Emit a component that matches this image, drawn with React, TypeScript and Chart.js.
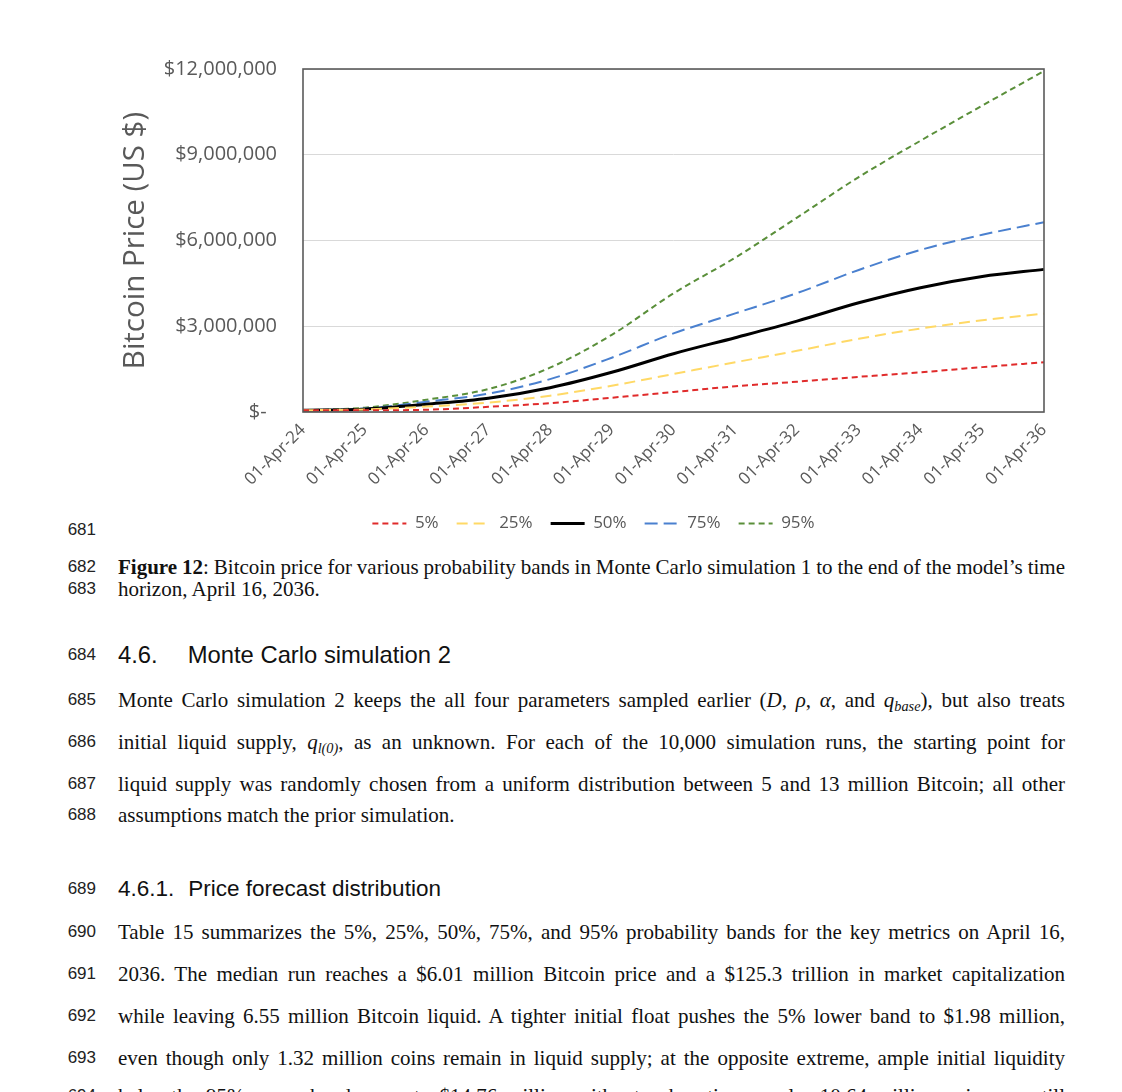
import React, { useEffect, useRef } from 'react';
import { Chart, registerables } from 'chart.js';

Chart.register(...registerables);

// X categories (tick labels)
const categories = [
  '01-Apr-24', '01-Apr-25', '01-Apr-26', '01-Apr-27', '01-Apr-28', '01-Apr-29', '01-Apr-30',
  '01-Apr-31', '01-Apr-32', '01-Apr-33', '01-Apr-34', '01-Apr-35', '01-Apr-36',
];

// Bitcoin price per probability band, in millions of US $
const p5 = [0.06, 0.06, 0.08, 0.18, 0.31, 0.50, 0.70, 0.90, 1.06, 1.23, 1.39, 1.57, 1.74];
const p25 = [0.06, 0.09, 0.19, 0.33, 0.57, 0.92, 1.33, 1.74, 2.14, 2.56, 2.92, 3.21, 3.44];
const p50 = [0.06, 0.10, 0.27, 0.48, 0.85, 1.39, 2.04, 2.60, 3.18, 3.82, 4.35, 4.74, 4.99];
const p75 = [0.06, 0.12, 0.36, 0.64, 1.15, 1.90, 2.75, 3.45, 4.16, 4.97, 5.67, 6.20, 6.64];
const p95 = [0.06, 0.15, 0.43, 0.80, 1.55, 2.70, 4.15, 5.40, 6.80, 8.22, 9.49, 10.72, 11.93];

const seriesLabels = ['5%', '25%', '50%', '75%', '95%'];
const yTicks = [0, 3000000, 6000000, 9000000, 12000000];

const FONT = "'Open Sans', 'Noto Sans', sans-serif";
const GREY = '#595959';
const PAD_LEFT = 0;
const PAD_RIGHT = 43;

const framePlugin = {
  id: 'plotFrame',
  afterLayout(chart: any) {
    // centre the legend on the whole chart area (as in the original), not on the padded box
    const lg = chart.legend;
    if (lg) {
      const shift = (PAD_RIGHT - PAD_LEFT) / 2;
      lg.left += shift;
      lg.right += shift;
    }
  },
  afterDraw(chart: any) {
    const { ctx, chartArea } = chart;
    ctx.save();
    ctx.strokeStyle = '#5a5a5a';
    ctx.lineWidth = 1.6;
    ctx.strokeRect(chartArea.left, chartArea.top, chartArea.right - chartArea.left, chartArea.bottom - chartArea.top);
    ctx.restore();
  },
};

function PriceChart() {
  const ref = useRef<HTMLCanvasElement | null>(null);
  useEffect(() => {
    if (!ref.current) return;
    const toDollars = (arr: number[]) => arr.map((v) => v * 1000000);
    const chart = new Chart(ref.current, {
      type: 'line',
      data: {
        labels: categories,
        datasets: [
          { label: seriesLabels[0], data: toDollars(p5), borderColor: '#E02B2B', borderWidth: 2, borderDash: [6, 4] },
          { label: seriesLabels[1], data: toDollars(p25), borderColor: '#FFD966', borderWidth: 2, borderDash: [11, 6] },
          { label: seriesLabels[2], data: toDollars(p50), borderColor: '#000000', borderWidth: 3, borderDash: [] as number[] },
          { label: seriesLabels[3], data: toDollars(p75), borderColor: '#4A80CF', borderWidth: 2, borderDash: [13, 6] },
          { label: seriesLabels[4], data: toDollars(p95), borderColor: '#5A8F3A', borderWidth: 2, borderDash: [6, 4] },
        ].map((d) => ({ ...d, pointRadius: 0, fill: false, cubicInterpolationMode: 'monotone' as const, borderCapStyle: 'butt' as const })),
      },
      options: {
        animation: false,
        responsive: false,
        layout: { padding: { top: 29, right: PAD_RIGHT, left: PAD_LEFT, bottom: 0 } },
        plugins: {
          legend: {
            position: 'bottom',
            labels: {
              usePointStyle: true,
              pointStyle: 'line',
              pointStyleWidth: 34,
              padding: 18,
              color: GREY,
              font: { family: FONT, size: 17 },
              generateLabels: (c: any) => {
                const items = Chart.defaults.plugins.legend.labels.generateLabels(c);
                return items.map((it: any) => {
                  const ds: any = c.data.datasets[it.datasetIndex];
                  return { ...it, lineDash: ds.borderDash || [], lineWidth: ds.borderWidth, strokeStyle: ds.borderColor, pointStyle: 'line' };
                });
              },
            },
          },
          tooltip: { enabled: false },
        },
        scales: {
          x: {
            type: 'category',
            offset: false,
            grid: { display: false, drawTicks: false },
            border: { display: false },
            ticks: {
              autoSkip: false,
              minRotation: 45,
              maxRotation: 45,
              padding: 8,
              color: GREY,
              font: { family: FONT, size: 17 },
            },
            afterFit: (s: any) => { s.height = 85; },
          },
          y: {
            min: 0,
            max: 12000000,
            grid: { color: '#d9d9d9', lineWidth: 1, drawTicks: false },
            border: { display: false },
            afterBuildTicks: (s: any) => { s.ticks = yTicks.map((v) => ({ value: v })); },
            ticks: {
              padding: 26,
              color: GREY,
              font: { family: FONT, size: 20 },
              callback: (v: any) => (Number(v) === 0 ? '$-  ' : '$' + Number(v).toLocaleString('en-US')),
            },
            title: {
              display: true,
              text: 'Bitcoin Price (US $)',
              color: GREY,
              font: { family: FONT, size: 29.5 },
              padding: { top: 18, bottom: 0 },
            },
            afterFit: (s: any) => {
              s.width = 203;
              s.paddingTop = 0;
              s.paddingBottom = 0;
            },
          },
        },
      },
      plugins: [framePlugin],
    });
    return () => chart.destroy();
  }, []);
  return <canvas ref={ref} width={987} height={502} style={{ width: 987, height: 502, display: 'block' }} />;
}

const serif = "'Liberation Serif', 'Times New Roman', serif";
const sans = "'Liberation Sans', Arial, sans-serif";

function Num({ n, y }: { n: string; y: number }) {
  return (
    <div style={{ position: 'absolute', left: 0, width: 96, top: y - 12, height: 24, lineHeight: '24px', textAlign: 'right', fontFamily: sans, fontSize: 17, color: '#222' }}>
      {n}
    </div>
  );
}

function TextLine({ y, justify, children, font, size, ws }: { y: number; justify?: boolean; children: React.ReactNode; font?: string; size?: number; ws?: number }) {
  return (
    <div
      style={{
        position: 'absolute', left: 118, width: 947, top: y - 13, height: 26, lineHeight: '26px',
        fontFamily: font || serif, fontSize: size || 21, color: '#111', whiteSpace: 'nowrap',
        wordSpacing: ws || 0,
        textAlign: justify ? 'justify' : 'left', textAlignLast: justify ? 'justify' : 'left',
      } as React.CSSProperties}
    >
      {children}
    </div>
  );
}

const subStyle: React.CSSProperties = { fontSize: '0.68em', lineHeight: 0, verticalAlign: '-0.3em', fontStyle: 'italic' };

export default function App() {
  return (
    <div style={{ position: 'absolute', left: 0, top: 0, width: 1122, height: 1092, overflow: 'hidden', background: '#fff' }}>
      <div style={{ position: 'absolute', left: 100, top: 40 }}>
        <PriceChart />
      </div>
      <Num n="681" y={530} />
      <Num n="682" y={567} />
      <TextLine y={567} justify ws={-1}>
        <b>Figure 12</b>: Bitcoin price for various probability bands in Monte Carlo simulation 1 to the end of the model’s time
      </TextLine>
      <Num n="683" y={589} />
      <TextLine y={589}>horizon, April 16, 2036.</TextLine>

      <Num n="684" y={655} />
      <TextLine y={655} font={sans} size={23.8}>
        4.6.<span style={{ display: 'inline-block', width: 30 }} />Monte Carlo simulation 2
      </TextLine>

      <Num n="685" y={700} />
      <TextLine y={700} justify>
        Monte Carlo simulation 2 keeps the all four parameters sampled earlier (<i>D</i>, <i>ρ</i>, <i>α</i>, and <i>q</i><span style={subStyle}>base</span>), but also treats
      </TextLine>
      <Num n="686" y={742} />
      <TextLine y={742} justify>
        initial liquid supply, <i>q</i><span style={subStyle}>l(0)</span>, as an unknown. For each of the 10,000 simulation runs, the starting point for
      </TextLine>
      <Num n="687" y={784} />
      <TextLine y={784} justify>
        liquid supply was randomly chosen from a uniform distribution between 5 and 13 million Bitcoin; all other
      </TextLine>
      <Num n="688" y={815} />
      <TextLine y={815}>assumptions match the prior simulation.</TextLine>

      <Num n="689" y={889} />
      <TextLine y={889} font={sans} size={22.5}>
        4.6.1.<span style={{ display: 'inline-block', width: 14 }} />Price forecast distribution
      </TextLine>

      <Num n="690" y={932} />
      <TextLine y={932} justify>
        Table 15 summarizes the 5%, 25%, 50%, 75%, and 95% probability bands for the key metrics on April 16,
      </TextLine>
      <Num n="691" y={974} />
      <TextLine y={974} justify>
        2036. The median run reaches a $6.01 million Bitcoin price and a $125.3 trillion in market capitalization
      </TextLine>
      <Num n="692" y={1016} />
      <TextLine y={1016} justify>
        while leaving 6.55 million Bitcoin liquid. A tighter initial float pushes the 5% lower band to $1.98 million,
      </TextLine>
      <Num n="693" y={1058} />
      <TextLine y={1058} justify>
        even though only 1.32 million coins remain in liquid supply; at the opposite extreme, ample initial liquidity
      </TextLine>
      <Num n="694" y={1096} />
      <TextLine y={1096} justify>
        helps the 95% upper band surge to $14.76 million without exhausting supply; 10.64 million coins are still
      </TextLine>
    </div>
  );
}
